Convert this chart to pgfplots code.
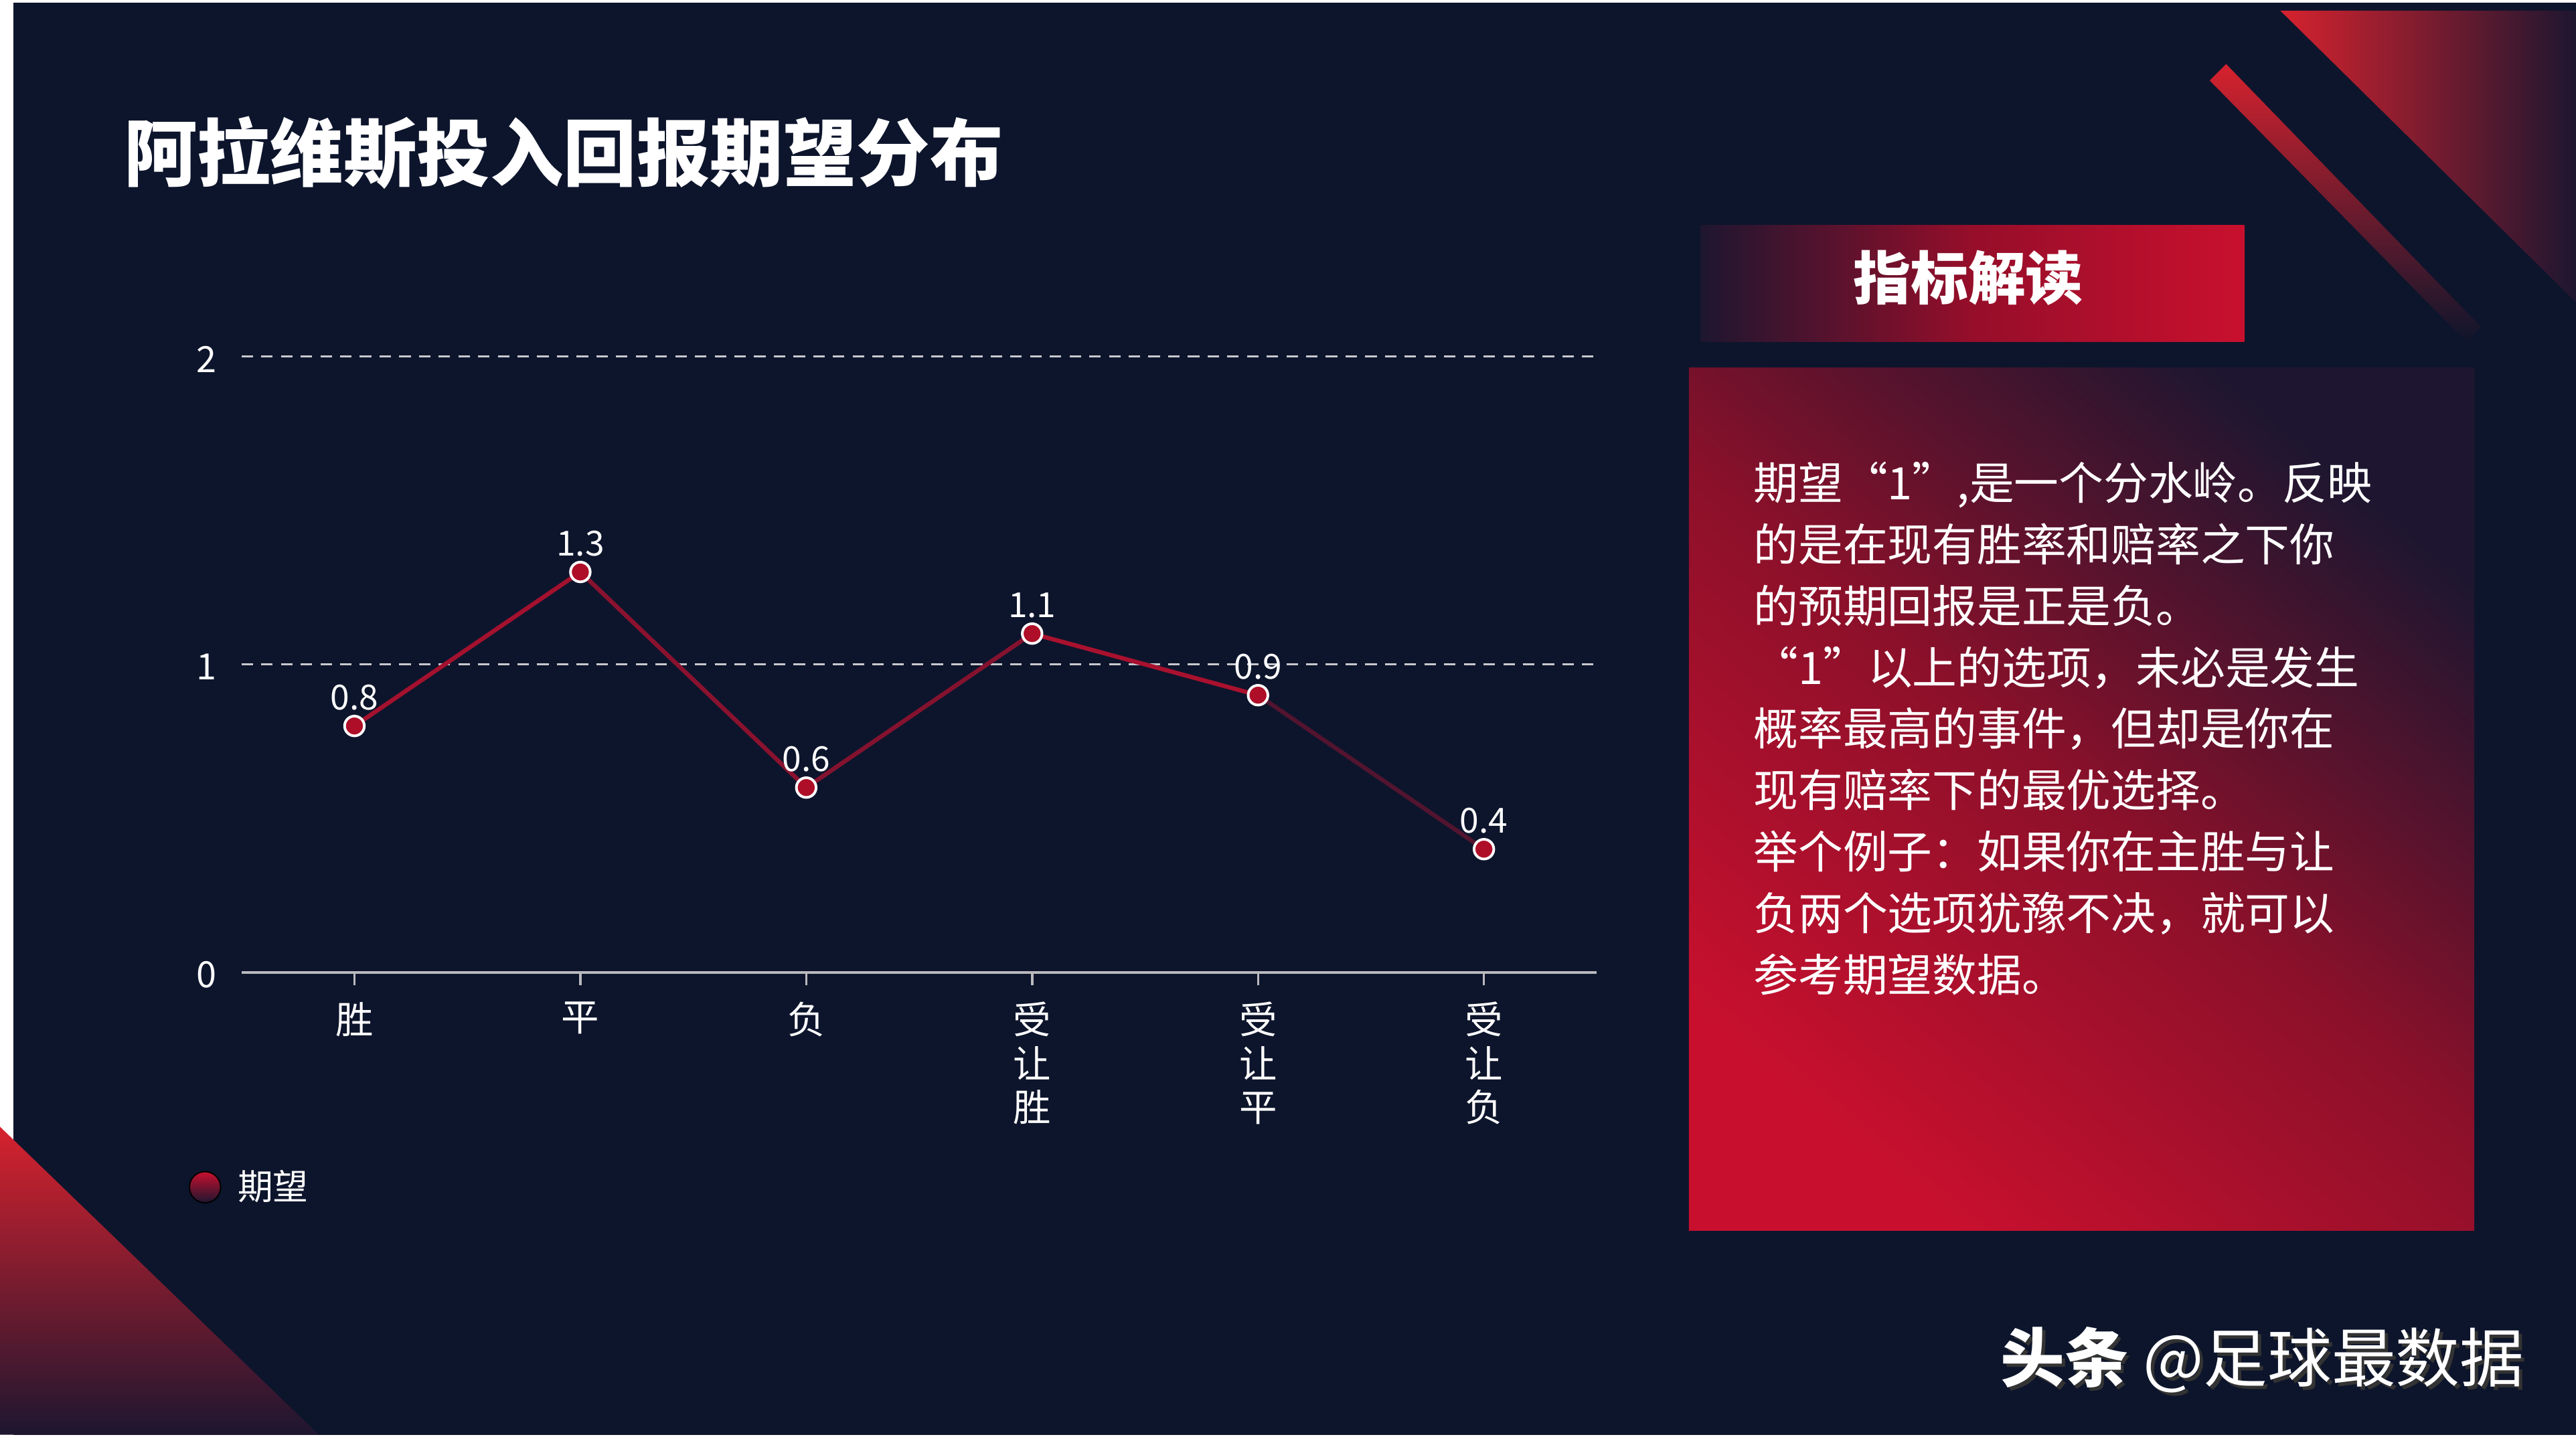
\documentclass[border=0pt]{standalone}
\usepackage{pgfplots}
\pgfplotsset{compat=1.18}
\usepackage{fontspec}
\setmainfont{Noto Sans CJK SC}
\definecolor{navy}{RGB}{13,21,44}
\definecolor{cred}{RGB}{200,16,46}
\definecolor{bred}{RGB}{214,34,46}
\definecolor{dk}{RGB}{30,22,48}
\definecolor{gridc}{RGB}{200,200,205}
\definecolor{axc}{RGB}{185,185,190}
\definecolor{mred}{RGB}{175,14,40}
\definecolor{midr}{RGB}{150,14,42}
\definecolor{midp}{RGB}{140,16,42}
\begin{document}
\begin{tikzpicture}
\begin{scope}[x=0.5pt,y=0.5pt]
\fill[white] (0,0) rectangle (1568,877);
\fill[navy] (8,3.5) rectangle (1568,875.5);
% decorative shapes
\shade[top color=bred, bottom color=dk] (0,191) -- (194,3.5) -- (0,3.5) -- cycle;
\shade[left color=bred, right color=dk] (1388,870.5) -- (1568,870.5) -- (1568,693) -- cycle;
\shade[top color=bred, bottom color=navy] (1345,828) -- (1355,838) -- (1510,678) -- (1502,668) -- cycle;
% header box
\shade[left color=dk, right color=cred, middle color=midr] (1035,669) rectangle (1366,740);
% panel
\shade[top color=dk, bottom color=cred, middle color=midp, shading angle=-40] (1028,128) rectangle (1506,653);
% title
\node[anchor=base west, text=white, font=\fontsize{22.3}{26}\selectfont\bfseries, inner sep=0pt] at (75,767) {阿拉维斯投入回报期望分布};
\node[text=white, font=\fontsize{17.5}{20}\selectfont\bfseries, inner sep=0pt] at (1198,708) {指标解读};
% panel text
\begin{scope}[every node/.style={anchor=base west, text=white, font=\fontsize{13.6}{16}\selectfont, inner sep=0pt}]
\node at (1067,572.7) {期望“1”,是一个分水岭。反映};
\node at (1067,535.3) {的是在现有胜率和赔率之下你};
\node at (1067,497.9) {的预期回报是正是负。};
\node at (1067,460.5) {“1”以上的选项，未必是发生};
\node at (1067,423.1) {概率最高的事件，但却是你在};
\node at (1067,385.7) {现有赔率下的最优选择。};
\node at (1067,348.3) {举个例子：如果你在主胜与让};
\node at (1067,310.9) {负两个选项犹豫不决，就可以};
\node at (1067,273.5) {参考期望数据。};
\end{scope}
% watermark
\node[text=black!80, font=\fontsize{19.5}{22}\selectfont, inner sep=0pt] at (1379,47) {{\bfseries 头条} @足球最数据};
\node[text=white, font=\fontsize{19.5}{22}\selectfont, inner sep=0pt] at (1377,49) {{\bfseries 头条} @足球最数据};
\end{scope}
\begin{axis}[
  at={(73.5pt,142.5pt)}, anchor=south west,
  scale only axis, width=412.5pt, height=187.5pt,
  xmin=-0.5, xmax=5.5, ymin=0, ymax=2,
  clip=false,
  axis lines*=left,
  x axis line style={color=axc, line width=0.7pt},
  y axis line style={draw=none},
  xtick={0,1,2,3,4,5},
  xticklabels={胜,平,负,{受\\让\\胜},{受\\让\\平},{受\\让\\负}},
  ytick={0,1,2}, yticklabels={0,1,2},
  ytick style={draw=none},
  xtick style={color=axc, line width=0.7pt},
  tick align=outside, major tick length=4pt,
  ymajorgrids, grid style={color=gridc, line width=0.75pt, dash pattern=on 3.5pt off 2.5pt},
  xticklabel style={text=white, font=\fontsize{11.5}{13.3}\selectfont, align=center, yshift=-1.5pt},
  yticklabel style={text=white, font=\fontsize{11}{12}\selectfont, yshift=-0.8pt},
  colormap={fade}{rgb255=(20,22,48) rgb255=(205,16,46)},
  legend style={at={(-0.0394,-0.3488)}, anchor=west, draw=none, fill=none, text=white, font=\fontsize{10.75}{12}\selectfont, inner sep=0pt, nodes={inner sep=0pt}, column sep=5pt},
]
\addlegendimage{legend image code/.code={\shade[top color=cred, bottom color=dk] (4.75pt,0pt) circle (4.75pt);}}
\addlegendentry{期望}
\addplot[mesh, point meta=y, point meta min=0.4, point meta max=1.15, line width=1.3pt, forget plot] coordinates {(0,0.8) (1,1.3) (2,0.6) (3,1.1) (4,0.9) (5,0.4)};
\addplot[only marks, mark=*, mark size=3pt, mark options={fill=mred, draw=white, line width=0.8pt}, point meta=explicit symbolic, nodes near coords, every node near coord/.append style={text=white, font=\fontsize{10.5}{12}\selectfont, yshift=1pt}, forget plot] coordinates {(0,0.8) [0.8] (1,1.3) [1.3] (2,0.6) [0.6] (3,1.1) [1.1] (4,0.9) [0.9] (5,0.4) [0.4]};
\end{axis}
\pgfresetboundingbox
\path[use as bounding box] (0,0) rectangle (784pt,438.5pt);
\end{tikzpicture}
\end{document}
